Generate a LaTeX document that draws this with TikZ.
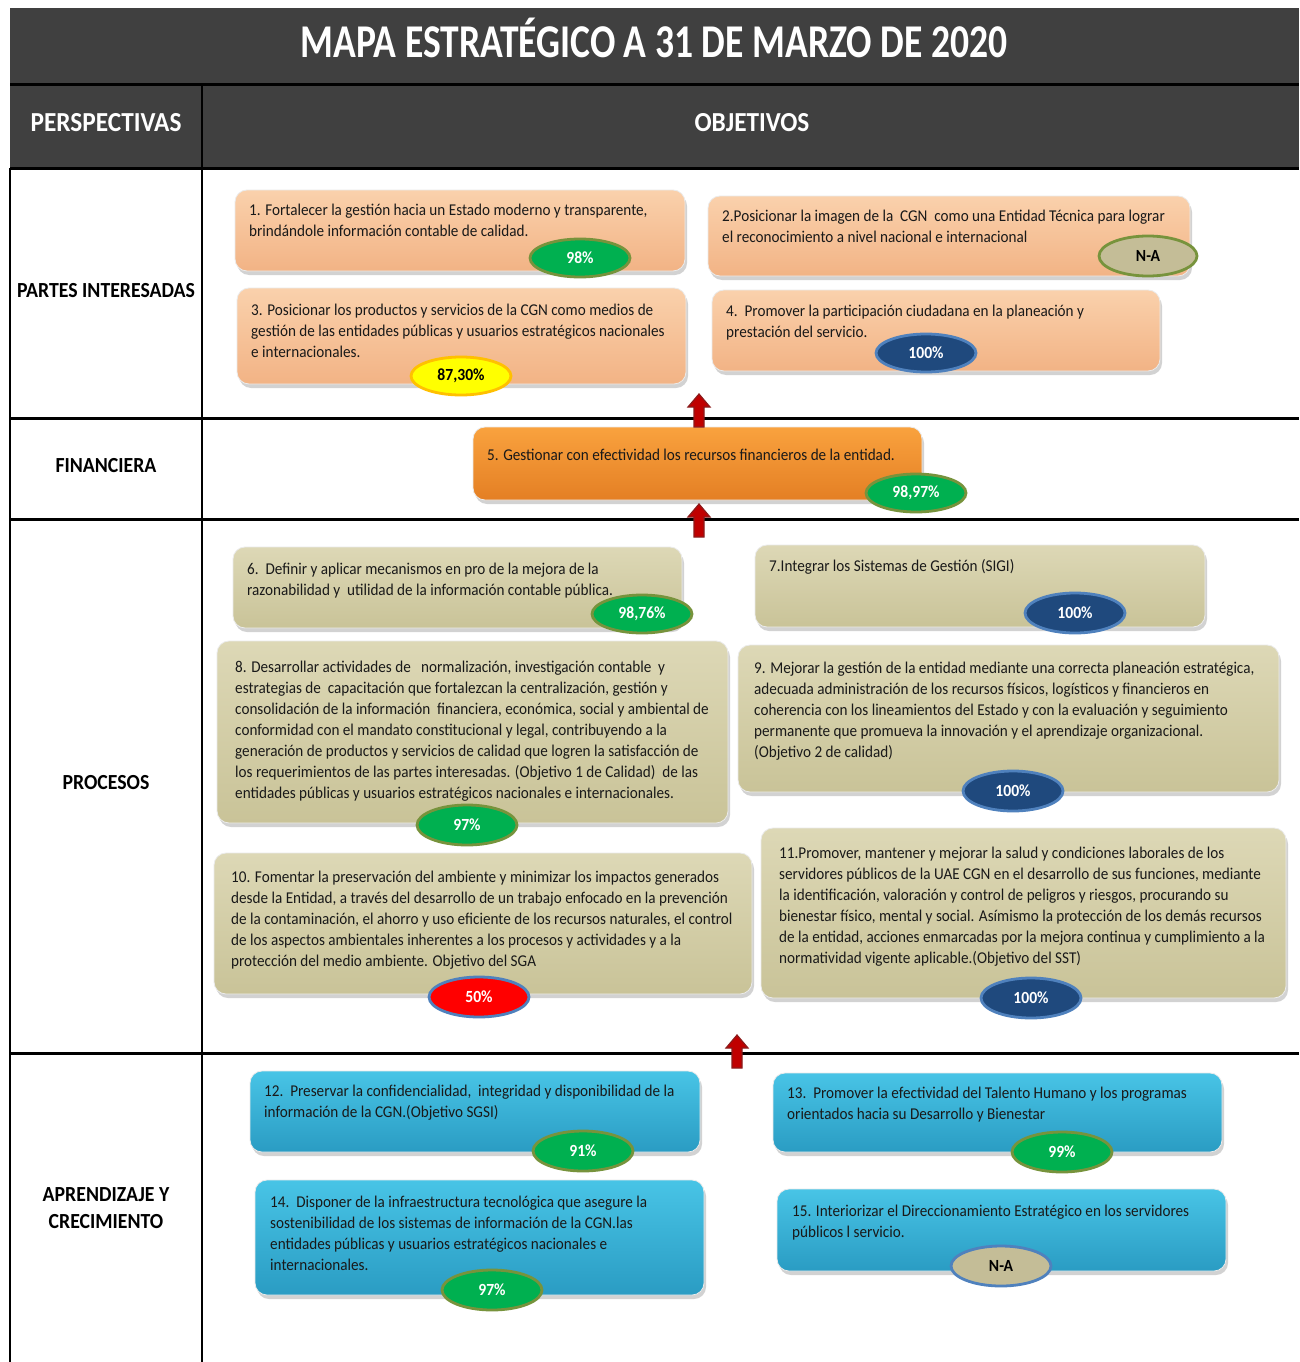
\documentclass[tikz,border=0pt]{standalone}
\usepackage{fontspec}
\setmainfont{Carlito}[FakeStretch=0.92]
\newfontfamily\titlefont{Carlito}[FakeStretch=0.8]
\usetikzlibrary{shadows,shapes.geometric}
\definecolor{band}{HTML}{404040}
\definecolor{peachT}{HTML}{FAD1AC}
\definecolor{peachB}{HTML}{F2B385}
\definecolor{orangeT}{HTML}{F9A23E}
\definecolor{orangeB}{HTML}{E47F24}
\definecolor{tanT}{HTML}{DDD8B6}
\definecolor{tanB}{HTML}{C9C398}
\definecolor{blueT}{HTML}{48C4E6}
\definecolor{blueB}{HTML}{2A9CC3}
\definecolor{gfill}{HTML}{00B050}
\definecolor{gline}{HTML}{77933C}
\definecolor{bfill}{HTML}{1F497D}
\definecolor{bline}{HTML}{4F81BD}
\definecolor{nafill}{HTML}{C4BD97}
\definecolor{yfill}{HTML}{FFFF00}
\definecolor{yline}{HTML}{FFC000}
\definecolor{rfill}{HTML}{FF0000}
\definecolor{arrfill}{HTML}{C00000}
\definecolor{arrline}{HTML}{8C1B1B}
\begin{document}
\begin{tikzpicture}[x=1pt,y=-1pt,
  objbox/.style={rounded corners=12pt, inner sep=0pt, draw=white!60!black!20, line width=0.8pt,
    drop shadow={opacity=0.35, shadow xshift=2pt, shadow yshift=-4pt}},
  peach/.style={objbox, top color=peachT, bottom color=peachB},
  orangebox/.style={objbox, top color=orangeT, bottom color=orangeB},
  tan/.style={objbox, top color=tanT, bottom color=tanB},
  bluebox/.style={objbox, top color=blueT, bottom color=blueB},
  txt/.style={anchor=north west, align=left, inner sep=0pt, text=black!90,
    font=\fontsize{16.5}{21}\selectfont},
  badge/.style={ellipse, minimum width=100pt, minimum height=38pt, inner sep=0pt,
    line width=2.8pt, font=\fontsize{17}{17}\selectfont\bfseries, text=white},
  gbadge/.style={badge, fill=gfill, draw=gline},
  bbadge/.style={badge, fill=bfill, draw=bline},
  ybadge/.style={badge, fill=yfill, draw=yline, text=black},
  rbadge/.style={badge, fill=rfill, draw=bline},
  nabadge/.style={badge, fill=nafill, text=black},
  sepline/.style={line width=3pt, black},
  uparrow/.style={fill=arrfill, draw=arrline, line width=1.2pt, line join=miter},
  persp/.style={font=\fontsize{21.5}{27}\selectfont\bfseries, align=center, text=black},
  head/.style={font=\fontsize{27.5}{27.5}\selectfont\bfseries, text=white}
]
\useasboundingbox (0,0) rectangle (1299,1362);
\fill[white] (0,0) rectangle (1299,1362);
% bands
\fill[band] (10,8) rectangle (1299,168);
\node[font=\titlefont\fontsize{47}{47}\selectfont\bfseries, text=white] (title) at (654,38) {MAPA ESTRATÉGICO A 31 DE MARZO DE 2020};
\node[head] (hp) at (106,123) {PERSPECTIVAS};
\node[head] (ho) at (752,123) {OBJETIVOS};
% grid lines
\draw[sepline] (10,85) -- (1299,85);
\draw[sepline] (10,168) -- (1299,168);
\draw[sepline] (10,418) -- (1299,418);
\draw[sepline] (10,519) -- (1299,519);
\draw[sepline] (10,1053) -- (1299,1053);
\draw[line width=2.5pt] (202,85) -- (202,1362);
\draw[line width=2pt] (10,168) -- (10,1362);
% perspectives
\node[persp] (p1) at (106,291) {PARTES INTERESADAS};
\node[persp] (p2) at (106,466) {FINANCIERA};
\node[persp] (p3) at (106,783) {PROCESOS};
\node[persp] (p4) at (106,1208) {APRENDIZAJE Y\\CRECIMIENTO};

% boxes
\node[peach, minimum width=450pt, minimum height=81pt] (o1) at (460,230.5) {};
\node[txt] (t1) at (249,201) {\strut 1. Fortalecer la gestión hacia un Estado moderno y transparente,\\ brindándole información contable de calidad.};
\node[gbadge] (k1) at (580,258) {98\%};

\node[peach, minimum width=482pt, minimum height=80pt] (o2) at (949,236) {};
\node[txt] (t2) at (722,207) {\strut 2.Posicionar la imagen de la\ \ CGN\ \ como una Entidad Técnica para lograr\\ el reconocimiento a nivel nacional e internacional};
\node[nabadge, draw=gline, minimum width=98pt, minimum height=40pt] (k2) at (1148,256) {N-A};

\node[peach, minimum width=449pt, minimum height=96pt] (o3) at (461.5,336) {};
\node[txt] (t3) at (251,301) {\strut 3. Posicionar los productos y servicios de la CGN como medios de\\ gestión de las entidades públicas y usuarios estratégicos nacionales\\ e internacionales.};
\node[ybadge] (k3) at (461,376) {87,30\%};

\node[peach, minimum width=448pt, minimum height=81pt] (o4) at (936,330.5) {};
\node[txt] (t4) at (726,302) {\strut 4.\ \ Promover la participación ciudadana en la planeación y\\ prestación del servicio.};
\node[bbadge] (k4) at (926,353) {100\%};

\node[orangebox, minimum width=449pt, minimum height=73pt] (o5) at (697.5,463.5) {};
\node[txt] (t5) at (487,446) {\strut 5. Gestionar con efectividad los recursos financieros de la entidad.};
\node[gbadge] (k5) at (916,493) {98,97\%};

\node[tan, minimum width=449pt, minimum height=81pt] (o6) at (457.5,587.5) {};
\node[txt] (t6) at (247,560) {\strut 6.\ \ Definir y aplicar mecanismos en pro de la mejora de la\\ razonabilidad y\ \ utilidad de la información contable pública.};
\node[gbadge] (k6) at (642,614) {98,76\%};

\node[tan, minimum width=450pt, minimum height=82pt] (o7) at (980,586) {};
\node[txt] (t7) at (769,557) {\strut 7.Integrar los Sistemas de Gestión (SIGI)};
\node[bbadge, minimum height=40pt] (k7) at (1075,613) {100\%};

\node[tan, minimum width=511pt, minimum height=182pt] (o8) at (472.5,732) {};
\node[txt] (t8) at (235,658) {\strut 8. Desarrollar actividades de\ \ \ normalización, investigación contable\ \ y\\ estrategias de\ \ capacitación que fortalezcan la centralización, gestión y\\ consolidación de la información\ \ financiera, económica, social y ambiental de\\ conformidad con el mandato constitucional y legal, contribuyendo a la\\ generación de productos y servicios de calidad que logren la satisfacción de\\ los requerimientos de las partes interesadas. (Objetivo 1 de Calidad)\ \ de las\\ entidades públicas y usuarios estratégicos nacionales e internacionales.};
\node[gbadge, minimum height=40pt] (k8) at (467,825) {97\%};

\node[tan, minimum width=541pt, minimum height=147pt] (o9) at (1008.5,718.5) {};
\node[txt] (t9) at (754,659) {\strut 9. Mejorar la gestión de la entidad mediante una correcta planeación estratégica,\\ adecuada administración de los recursos físicos, logísticos y financieros en\\ coherencia con los lineamientos del Estado y con la evaluación y seguimiento\\ permanente que promueva la innovación y el aprendizaje organizacional.\\ (Objetivo 2 de calidad)};
\node[bbadge, minimum height=40pt] (k9) at (1013,791) {100\%};

\node[tan, minimum width=538pt, minimum height=141pt] (o10) at (483,923.5) {};
\node[txt] (t10) at (231,868) {\strut 10. Fomentar la preservación del ambiente y minimizar los impactos generados\\ desde la Entidad, a través del desarrollo de un trabajo enfocado en la prevención\\ de la contaminación, el ahorro y uso eficiente de los recursos naturales, el control\\ de los aspectos ambientales inherentes a los procesos y actividades y a la\\ protección del medio ambiente. Objetivo del SGA};
\node[rbadge, minimum height=40pt] (k10) at (479,997) {50\%};

\node[tan, minimum width=525pt, minimum height=170pt] (o11) at (1023.5,913) {};
\node[txt] (t11) at (779,844) {\strut 11.Promover, mantener y mejorar la salud y condiciones laborales de los\\ servidores públicos de la UAE CGN en el desarrollo de sus funciones, mediante\\ la identificación, valoración y control de peligros y riesgos, procurando su\\ bienestar físico, mental y social. Asímismo la protección de los demás recursos\\ de la entidad, acciones enmarcadas por la mejora continua y cumplimiento a la\\ normatividad vigente aplicable.(Objetivo del SST)};
\node[bbadge, minimum height=40pt] (k11) at (1031,998) {100\%};

\node[bluebox, minimum width=450pt, minimum height=81pt] (o12) at (475,1111.5) {};
\node[txt] (t12) at (264,1082) {\strut 12.\ \ Preservar la confidencialidad,\ \ integridad y disponibilidad de la\\ información de la CGN.(Objetivo SGSI)};
\node[gbadge, minimum height=40pt] (k12) at (583,1151) {91\%};

\node[bluebox, minimum width=449pt, minimum height=79pt] (o13) at (997.5,1112.5) {};
\node[txt] (t13) at (787,1084) {\strut 13.\ \ Promover la efectividad del Talento Humano y los programas\\ orientados hacia su Desarrollo y Bienestar};
\node[gbadge, minimum height=40pt] (k13) at (1062,1152) {99\%};

\node[bluebox, minimum width=449pt, minimum height=115pt] (o14) at (479.5,1237.5) {};
\node[txt] (t14) at (270,1193) {\strut 14.\ \ Disponer de la infraestructura tecnológica que asegure la\\ sostenibilidad de los sistemas de información de la CGN.las\\ entidades públicas y usuarios estratégicos nacionales e\\ internacionales.};
\node[gbadge, minimum height=40pt] (k14) at (492,1290) {97\%};

\node[bluebox, minimum width=449pt, minimum height=82pt] (o15) at (1001.5,1230) {};
\node[txt] (t15) at (792,1202) {\strut 15. Interiorizar el Direccionamiento Estratégico en los servidores\\ públicos l servicio.};
\node[nabadge, draw=bline, minimum height=40pt] (k15) at (1001,1266) {N-A};

% arrows
\draw[uparrow] (694,427) -- (694,407) -- (688,407) -- (699,394) -- (710,407) -- (704,407) -- (704,427) -- cycle;
\draw[uparrow] (694,537) -- (694,517) -- (688,517) -- (699,504) -- (710,517) -- (704,517) -- (704,537) -- cycle;
\draw[uparrow] (732,1068) -- (732,1048) -- (726,1048) -- (737,1035) -- (748,1048) -- (742,1048) -- (742,1068) -- cycle;
\end{tikzpicture}
\end{document}
